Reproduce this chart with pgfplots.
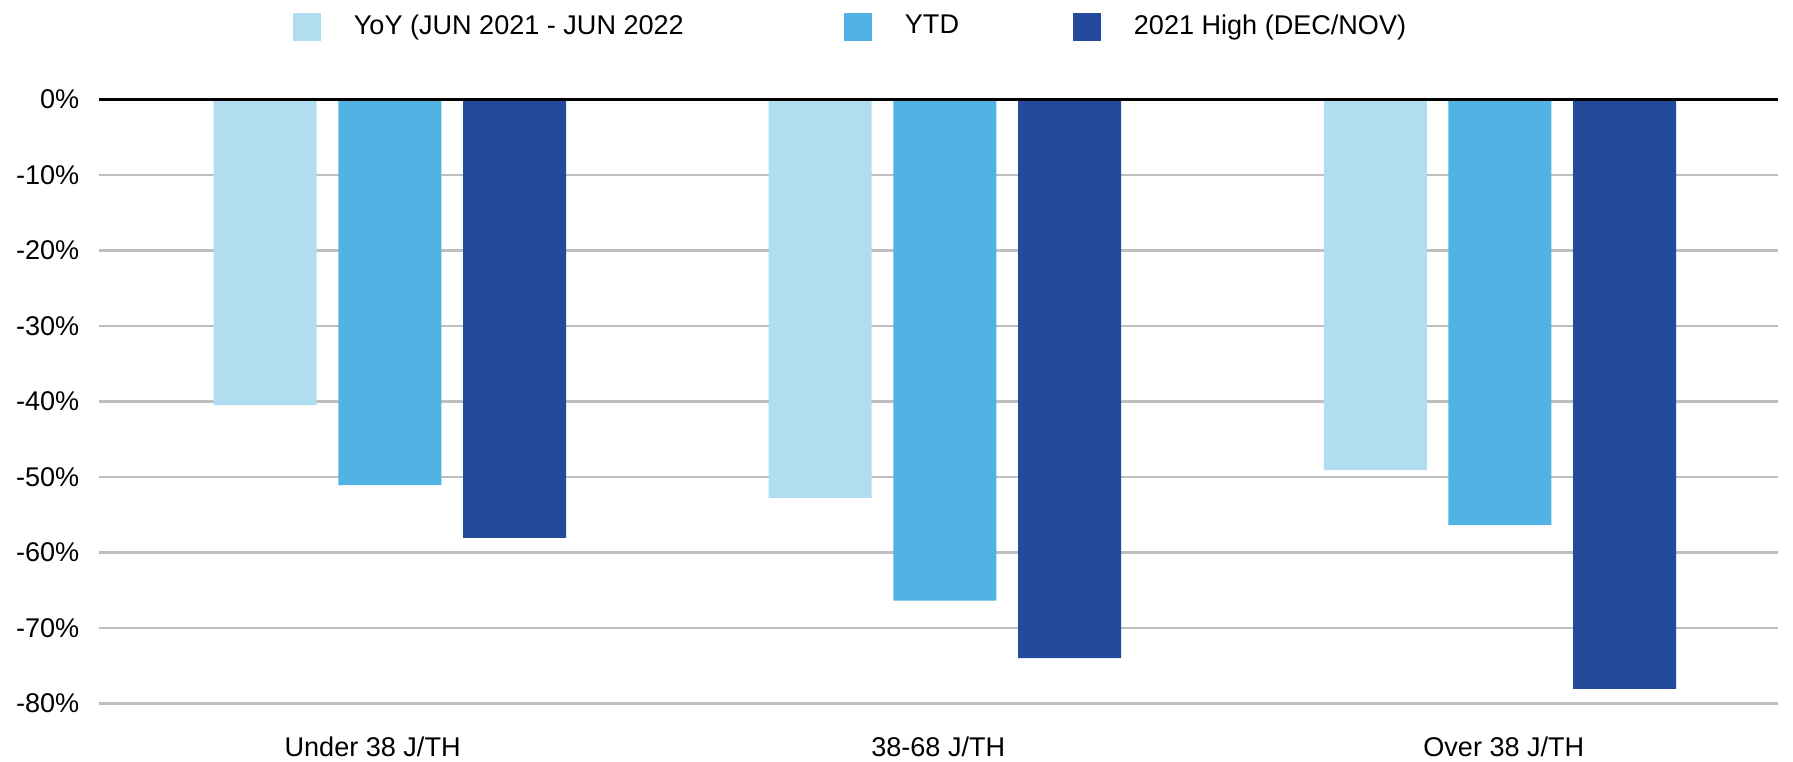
\documentclass[border=0pt]{standalone}
\usepackage{pgfplots}
\pgfplotsset{compat=1.18}
\usepackage{fontspec}
\setmainfont{Liberation Sans}
\definecolor{cLight}{RGB}{176,221,240}
\definecolor{cMid}{RGB}{80,179,228}
\definecolor{cDark}{RGB}{36,74,155}
\definecolor{cGrid}{RGB}{190,190,190}
\pgfplotsset{mylegend/.style={legend image code/.code={%
  \path[fill=none,draw=none] (0mm,-1.4mm) rectangle (6.1mm,1.4mm);
  \fill[##1] (0mm,-1.4mm) rectangle (2.8mm,1.4mm);}}}
\begin{document}
\begin{tikzpicture}
\begin{axis}[
  at={(0,0)}, anchor=south west,
  scale only axis, width=167.9mm, height=60.4mm,
  xmin=-0.524, xmax=2.501, ymin=-80, ymax=0,
  ybar, bar width=0.1856,
  axis line style={draw=none},
  major tick length=0pt,
  xtick={-0.031,0.988,2.007},
  xticklabels={Under 38 J/TH,38-68 J/TH,Over 38 J/TH},
  ytick={-80,-70,-60,-50,-40,-30,-20,-10,0},
  yticklabels={-80\%,-70\%,-60\%,-50\%,-40\%,-30\%,-20\%,-10\%,0\%},
  ymajorgrids, grid style={cGrid, line width=0.25mm},
  tick label style={font=\fontsize{7.7}{9}\selectfont, text=black},
  yticklabel style={inner sep=0pt, xshift=-1.9mm},
  xticklabel style={inner sep=0pt, yshift=-3.3mm},
  legend columns=-1,
  legend style={at={(0.1155,1.12)}, anchor=west, draw=none, fill=none,
    inner sep=0pt, outer sep=0pt, column sep=0pt,
    nodes={inner sep=0pt, outer sep=0pt, font=\fontsize{7.7}{9}\selectfont}},
  clip=false,
]
\addplot[fill=cLight, draw=none, bar shift=-0.2246, mylegend] coordinates {(0,-40.5) (1,-52.8) (2,-49.1)};
\addlegendentry{\makebox[49mm][l]{YoY (JUN 2021 - JUN 2022}}
\addplot[fill=cMid, draw=none, bar shift=0, mylegend] coordinates {(0,-51.1) (1,-66.4) (2,-56.4)};
\addlegendentry{\makebox[16.8mm][l]{YTD}}
\addplot[fill=cDark, draw=none, bar shift=0.2246, mylegend] coordinates {(0,-58.1) (1,-74.0) (2,-78.1)};
\addlegendentry{2021 High (DEC/NOV)}
\draw[black, line width=0.3mm] (axis cs:-0.524,0) -- (axis cs:2.501,0);
\end{axis}
\pgfresetboundingbox
\path[use as bounding box] (-9.9mm,-5.77mm) rectangle (169.4mm,70.33mm);
\end{tikzpicture}
\end{document}
